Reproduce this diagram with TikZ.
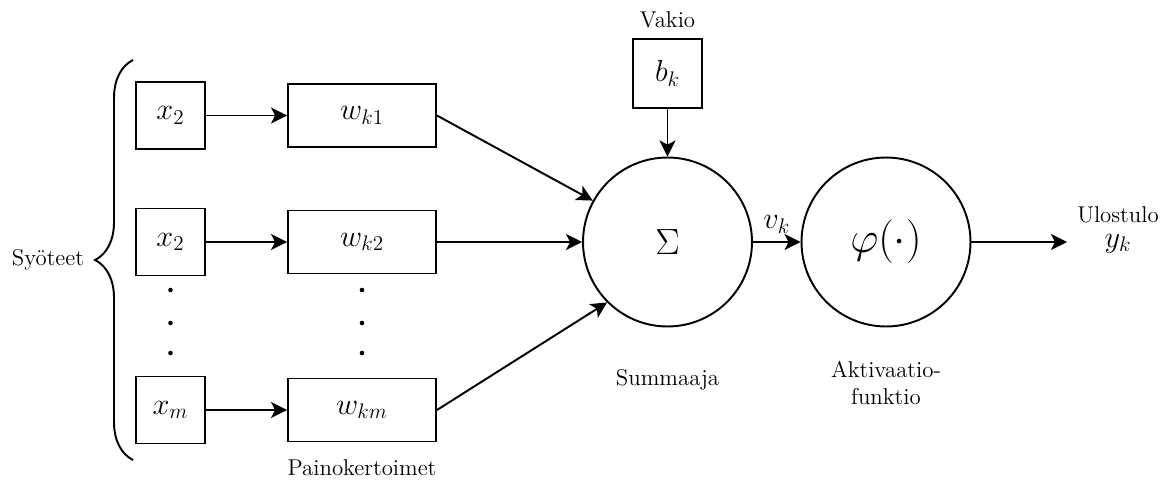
\documentclass[tikz,border=0pt]{standalone}
\usepackage{fontspec}
\usetikzlibrary{arrows.meta,positioning,decorations.pathreplacing}
\newcommand{\invar}[2]{{\fontsize{17}{20}\selectfont$#1_{#2}$}}
\tikzset{
  inbox/.style={rectangle, draw, line width=1.1pt, minimum width=1.38cm,
                minimum height=1.34cm, inner sep=0pt},
  wbox/.style={rectangle, draw, line width=1.1pt, minimum width=2.96cm,
               minimum height=1.26cm, inner sep=0pt},
  unit/.style={circle, draw, line width=1.1pt, minimum size=3.38cm,
               inner sep=0pt, font=\fontsize{22}{26}\selectfont},
  flow/.style={-{Stealth[length=0.32cm, width=0.32cm, inset=0.08cm]},
               line width=1.1pt},
  lbl/.style={align=center},
}

\begin{document}
\begin{tikzpicture}[x=0.02cm, y=-0.02cm, font=\fontsize{13}{15}\selectfont]
  \useasboundingbox (0,0) rectangle (1173,480);

  % Inputs and weights
  \foreach \n/\y/\xs/\ws in {1/115.5/2/k1, 2/242/2/k2, m/410/m/km}{
    \node[inbox] (x\n) at (170.5,\y) {\invar{x}{\xs}};
    \node[wbox] (w\n) at (362,\y) {\invar{w}{\ws}};
    \draw[flow] (x\n) -- (w\n);
  }
  \foreach \y in {290,323,353}{
    \fill (170.5,\y) circle (1.3pt);
    \fill (362,\y) circle (1.3pt);
  }
  \node[lbl] (wlbl) at (362,468) {Painokertoimet};

  % Brace round the inputs
  \draw[line width=1.1pt, decorate, decoration={brace, amplitude=0.76cm}]
    (133,460) -- (133,60);
  \node[lbl] (inlbl) at (48,260) {Syöteet};

  % Summing junction and bias
  \node[unit] (sum) at (667.5,242) {$\Sigma$};
  \node[inbox, minimum height=1.38cm] (bias) at (667.5,73.5) {\invar{b}{k}};
  \node[lbl] (blbl) at (667.5,20) {Vakio};
  \node[lbl] (sumlbl) at (667.5,380) {Summaaja};
  \draw[flow] (bias) -- (sum);
  \draw[flow] (w1.east) -- (sum.151);
  \draw[flow] (w2) -- (sum);
  \draw[flow] (wm.east) -- (sum.225);

  % Activation and output
  \node[unit, font=\fontsize{24}{28}\selectfont] (act) at (886,242) {$\varphi(\cdot)$};
  \node[lbl] (actlbl) at (886,383) {Aktivaatio-\\funktio};
  \draw[flow] (sum) -- node[above=1pt] {\invar{v}{k}} (act);
  \coordinate (out) at (1067,242);
  \draw[flow] (act) -- (out);
  \node[lbl] (outlbl) at (1118,230) {Ulostulo\\[-1pt]\invar{y}{k}};
\end{tikzpicture}
\end{document}
